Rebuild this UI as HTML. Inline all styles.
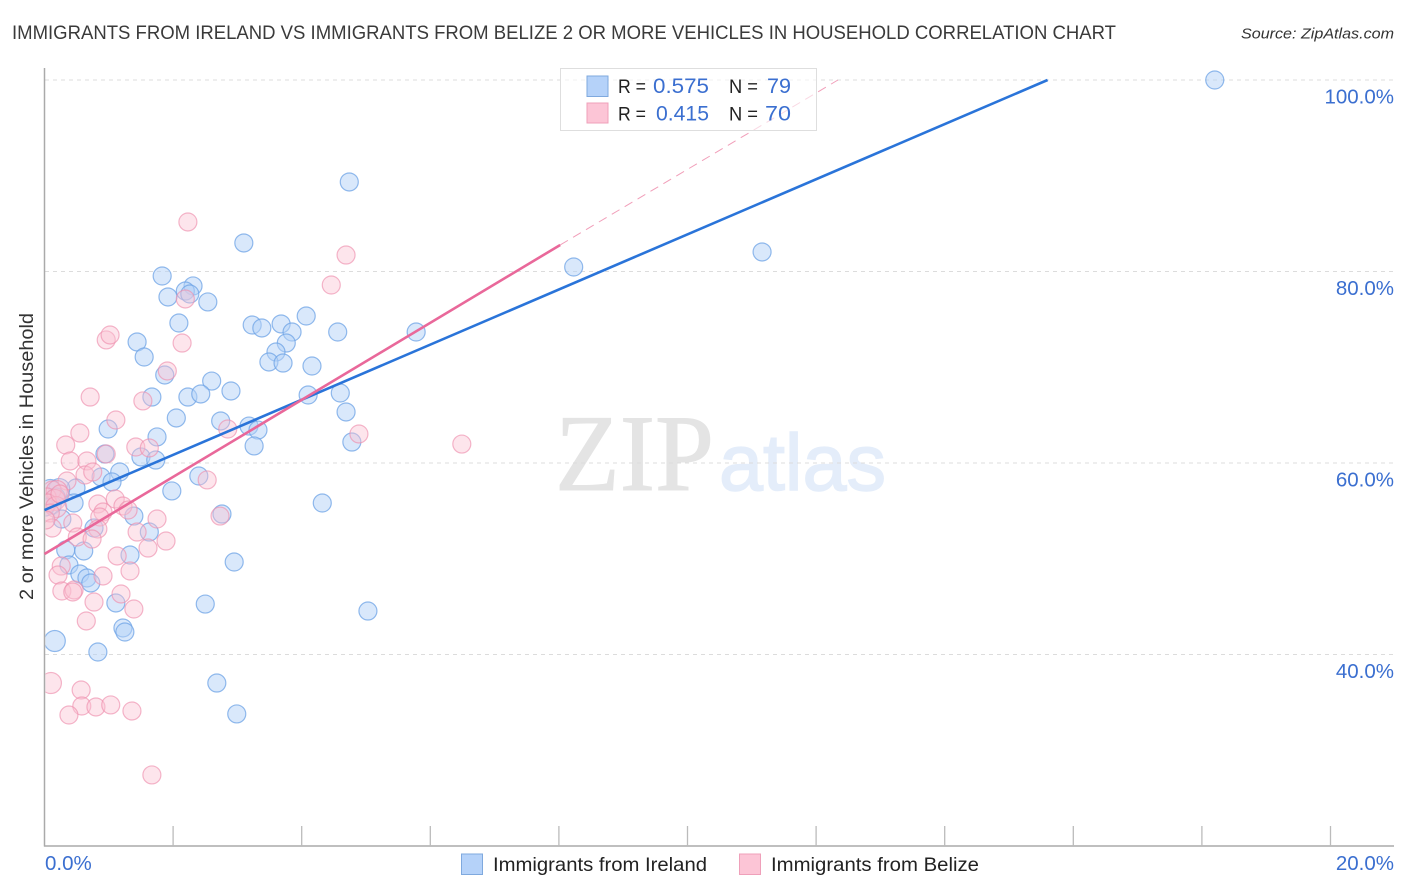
<!DOCTYPE html>
<html>
<head>
<meta charset="utf-8">
<title>Immigrants from Ireland vs Immigrants from Belize correlation chart</title>
<style>
html,body{margin:0;padding:0;background:#fff;width:1406px;height:892px;overflow:hidden}
svg{display:block}
text{font-family:"Liberation Sans",sans-serif}
</style>
</head>
<body>
<svg id="chart" xmlns="http://www.w3.org/2000/svg" width="1406" height="892" viewBox="0 0 1406 892">
  <defs><clipPath id="plot-clip"><rect x="45.5" y="60" width="1350" height="786"/></clipPath></defs>
  <text x="12" y="39" font-size="19.5" fill="#3a3a3a" textLength="1104" lengthAdjust="spacingAndGlyphs">IMMIGRANTS FROM IRELAND VS IMMIGRANTS FROM BELIZE 2 OR MORE VEHICLES IN HOUSEHOLD CORRELATION CHART</text>
  <text x="1241" y="38.5" font-size="15" font-style="italic" fill="#333" textLength="153" lengthAdjust="spacingAndGlyphs">Source: ZipAtlas.com</text>

  <g>
    <text x="555" y="490" style="font-family:'Liberation Serif',serif" font-size="109" fill="#e4e4e4" stroke="#e4e4e4" stroke-width="1" textLength="159" lengthAdjust="spacingAndGlyphs">ZIP</text>
    <text x="719" y="490" font-size="80" fill="#e4edfa" stroke="#e4edfa" stroke-width="1.5" textLength="167" lengthAdjust="spacingAndGlyphs">atlas</text>
  </g>

  <g id="grid"></g>
  <g id="axes"></g>
  <g id="points" clip-path="url(#plot-clip)"></g>
  <g id="trends"></g>
  <g id="labels"></g>

  <text transform="translate(33,456.5) rotate(-90)" text-anchor="middle" font-size="19" fill="#333" textLength="287" lengthAdjust="spacingAndGlyphs">2 or more Vehicles in Household</text>

  <g>
    <rect x="560.5" y="68.5" width="256" height="62" fill="#fff" fill-opacity="0.6" stroke="#dedede" stroke-width="1"/>
    <rect x="587" y="76" width="21" height="20.5" fill="#b5d2f9" stroke="#7fa9de" stroke-width="1"/>
    <rect x="587" y="103" width="21" height="20" fill="#fcc5d6" stroke="#efa0ba" stroke-width="1"/>
    <text x="618" y="93" font-size="19.5" fill="#222" textLength="28" lengthAdjust="spacingAndGlyphs">R =</text>
    <text x="653" y="93" font-size="21.5" fill="#3b6fd0" textLength="56" lengthAdjust="spacingAndGlyphs">0.575</text>
    <text x="729" y="93" font-size="19.5" fill="#222" textLength="29" lengthAdjust="spacingAndGlyphs">N =</text>
    <text x="767" y="93" font-size="21.5" fill="#3b6fd0" textLength="24" lengthAdjust="spacingAndGlyphs">79</text>
    <text x="618" y="120.5" font-size="19.5" fill="#222" textLength="28" lengthAdjust="spacingAndGlyphs">R =</text>
    <text x="656" y="120.5" font-size="21.5" fill="#3b6fd0" textLength="53" lengthAdjust="spacingAndGlyphs">0.415</text>
    <text x="729" y="120.5" font-size="19.5" fill="#222" textLength="29" lengthAdjust="spacingAndGlyphs">N =</text>
    <text x="765" y="120.5" font-size="21.5" fill="#3b6fd0" textLength="26" lengthAdjust="spacingAndGlyphs">70</text>
  </g>

  <g>
    <rect x="461.5" y="854" width="21" height="20.5" fill="#b5d2f9" stroke="#7fa9de" stroke-width="1"/>
    <text x="493" y="871" font-size="19.5" fill="#222" textLength="214" lengthAdjust="spacingAndGlyphs">Immigrants from Ireland</text>
    <rect x="739.5" y="854" width="21" height="20.5" fill="#fcc5d6" stroke="#efa0ba" stroke-width="1"/>
    <text x="771" y="871" font-size="19.5" fill="#222" textLength="208" lengthAdjust="spacingAndGlyphs">Immigrants from Belize</text>
  </g>
</svg>

<script>
const yTickValues = [100, 80, 60, 40];
const yTickLabels = ["100.0%", "80.0%", "60.0%", "40.0%"];
const xTickValues = [2, 4, 6, 8, 10, 12, 14, 16, 18, 20];
const xEndLabels = ["0.0%", "20.0%"];

const irelandX = [18.20,4.74,11.16,3.10,8.23,1.83,2.31,2.19,1.92,2.26,2.54,2.09,3.23,3.38,3.68,4.07,3.85,4.56,5.78,1.44,3.76,1.55,3.60,3.49,3.71,4.16,1.87,2.60,2.90,4.60,1.67,2.23,2.43,4.10,4.69,2.05,2.74,3.18,3.32,0.99,1.75,3.26,4.78,1.50,1.73,0.94,2.40,1.17,0.88,1.05,1.98,0.49,0.23,0.09,0.18,4.32,0.12,0.01,0.46,0.27,1.39,0.77,1.63,0.33,0.61,1.33,2.95,0.38,0.55,0.66,0.72,1.11,2.50,5.03,1.22,1.25,0.16,0.83,2.68,2.99,2.76];
const irelandY = [100.0,89.35,82.04,82.98,80.47,79.53,78.49,77.96,77.34,77.65,76.82,74.62,74.41,74.10,74.52,75.35,73.68,73.68,73.68,72.64,72.53,71.07,71.59,70.55,70.44,70.13,69.19,68.56,67.52,67.31,66.89,66.89,67.21,67.10,65.33,64.70,64.39,63.86,63.44,63.55,62.72,61.78,62.19,60.63,60.31,60.94,58.64,59.06,58.54,58.02,57.08,57.39,57.28,57.18,56.45,55.82,55.61,55.40,55.82,54.15,54.46,53.21,52.79,50.91,50.81,50.39,49.66,49.35,48.41,47.99,47.47,45.38,45.27,44.54,42.77,42.35,41.41,40.26,37.02,33.79,54.67];
const irelandHeavy = [53, 52, 76];

const belizeX = [2.23,4.69,4.46,2.19,2.14,0.96,1.02,1.91,0.71,1.53,1.11,2.85,4.89,0.55,6.49,0.33,1.42,1.63,0.40,0.66,0.96,0.63,0.75,0.35,2.53,0.12,0.19,0.04,0.16,0.05,0.18,0.09,1.10,0.83,1.22,0.91,0.86,1.30,1.75,0.44,0.12,2.73,0.83,1.44,0.51,0.74,1.89,1.61,1.13,0.26,0.21,1.33,0.91,0.27,0.46,0.44,1.19,0.77,1.39,0.65,0.10,0.57,0.58,0.80,1.03,0.38,1.36,1.67,0.24,0.02];
const belizeY = [85.17,81.72,78.59,77.13,72.53,72.85,73.37,69.61,66.89,66.48,64.49,63.55,63.03,63.13,61.98,61.88,61.67,61.57,60.21,60.21,60.94,58.75,59.06,58.12,58.23,57.18,57.08,56.45,56.14,55.82,55.40,54.78,56.24,55.72,55.51,54.88,54.36,55.09,54.15,53.73,53.21,54.46,53.11,52.79,52.27,52.06,51.85,51.12,50.29,49.24,48.30,48.72,48.20,46.63,46.74,46.53,46.32,45.48,44.75,43.50,37.02,36.29,34.62,34.52,34.73,33.68,34.10,27.42,56.76,54.05];
const belizeHeavy = [26, 28, 30, 60];

const irelandTrendX = [0, 15.6];
const irelandTrendY = [55.09, 100];
const belizeTrendX = [0, 8.02];
const belizeTrendY = [50.5, 82.77];
const belizeExtendX = [8.02, 12.34];
const belizeExtendY = [82.77, 100];

function xScale(v) { return 44.5 + v * 64.3; }
function yScale(v) { return 654.5 - (v - 40) * 9.575; }

const NS = "http://www.w3.org/2000/svg";
function make(tag, parent, attrs) {
  const el = document.createElementNS(NS, tag);
  for (const k in attrs) el.setAttribute(k, attrs[k]);
  parent.appendChild(el);
  return el;
}

const grid = document.getElementById("grid");
const axes = document.getElementById("axes");
const labels = document.getElementById("labels");
const points = document.getElementById("points");
const trends = document.getElementById("trends");

yTickValues.forEach(function (v, i) {
  const line = make("line", grid, {x1: 45, x2: 1394, y1: yScale(v), y2: yScale(v), stroke: "#dcdcdc", "stroke-width": 1, "stroke-dasharray": "4 4"});
  
  
  const t = make("text", labels, {x: 1394, y: yScale(v) + 23.5, "text-anchor": "end", "font-size": 20.5, fill: "#3b6fd0"});
  t.textContent = yTickLabels[i];
  
  
});

const yAxis = make("line", axes, {x1: 44.5, x2: 44.5, y1: 68, y2: 846.5, stroke: "#aaaaaa", "stroke-width": 1.5});


const xAxis = make("line", axes, {x1: 44, x2: 1394, y1: 846, y2: 846, stroke: "#aaaaaa", "stroke-width": 1.5});



xTickValues.forEach(function (v) {
  const tick = make("line", axes, {x1: xScale(v), x2: xScale(v), y1: 826, y2: 846, stroke: "#bbbbbb", "stroke-width": 1.3});
  
  
});

const x0Label = make("text", labels, {x: 45, y: 870, "font-size": 20.5, fill: "#3b6fd0"});
x0Label.textContent = xEndLabels[0];


const x1Label = make("text", labels, {x: 1394, y: 870, "text-anchor": "end", "font-size": 20.5, fill: "#3b6fd0"});
x1Label.textContent = xEndLabels[1];



irelandX.forEach(function (v, i) {
  const c = make("circle", points, {cx: xScale(v), cy: yScale(irelandY[i]), r: irelandHeavy.indexOf(i) >= 0 ? 10.5 : 9, fill: "#b3d1f8", "fill-opacity": 0.5, stroke: "#6ea3e6", "stroke-opacity": 0.75, "stroke-width": 1.2});
  
  
});

belizeX.forEach(function (v, i) {
  const c = make("circle", points, {cx: xScale(v), cy: yScale(belizeY[i]), r: belizeHeavy.indexOf(i) >= 0 ? 10.5 : 9, fill: "#fbc0d2", "fill-opacity": 0.42, stroke: "#ee8fae", "stroke-opacity": 0.65, "stroke-width": 1.2});
  
  
});

const extendLine = make("line", trends, {x1: xScale(belizeExtendX[0]), y1: yScale(belizeExtendY[0]), x2: xScale(belizeExtendX[1]), y2: yScale(belizeExtendY[1]), stroke: "#ee86a8", "stroke-width": 1, "stroke-dasharray": "9 6", "stroke-opacity": 0.8});


const irelandLine = make("line", trends, {x1: xScale(irelandTrendX[0]), y1: yScale(irelandTrendY[0]), x2: xScale(irelandTrendX[1]), y2: yScale(irelandTrendY[1]), stroke: "#2a74d9", "stroke-width": 2.6});


const belizeLine = make("line", trends, {x1: xScale(belizeTrendX[0]), y1: yScale(belizeTrendY[0]), x2: xScale(belizeTrendX[1]), y2: yScale(belizeTrendY[1]), stroke: "#e9689a", "stroke-width": 2.6});


</script>
</body>
</html>
